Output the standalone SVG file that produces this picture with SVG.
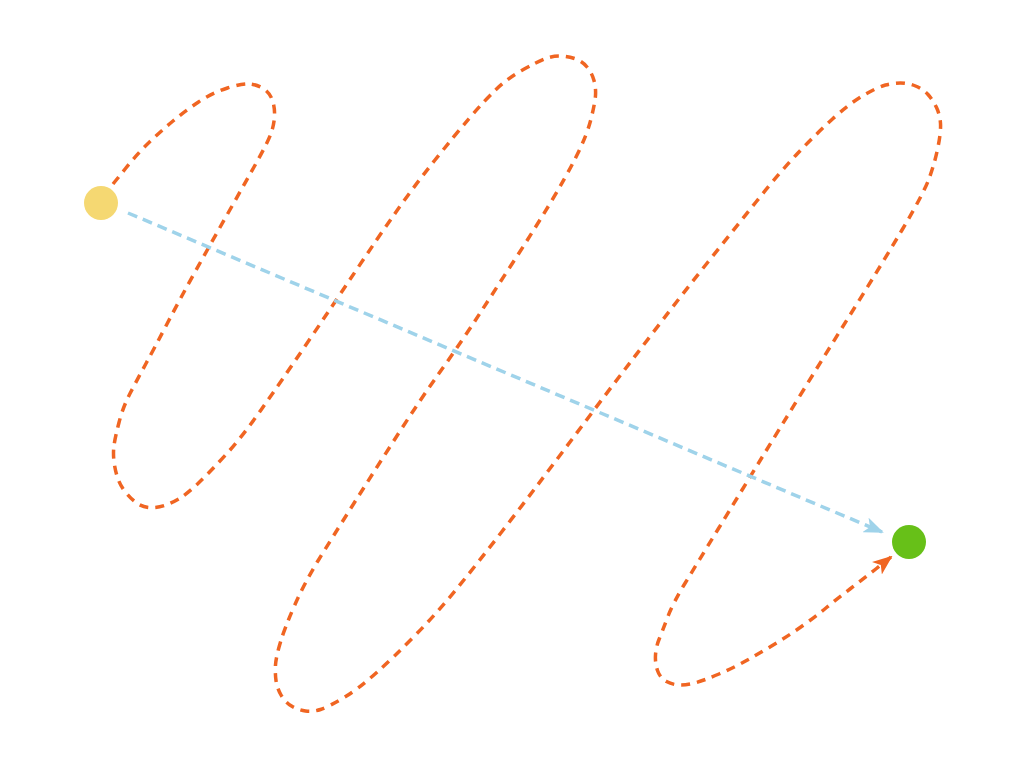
<svg xmlns="http://www.w3.org/2000/svg" width="1024" height="768" viewBox="0 0 1024 768">
<style>
.orange{fill:none;stroke:#f06522;stroke-width:3.5;stroke-dasharray:9 7}
.blue{fill:none;stroke:#9fd3ea;stroke-width:3.5;stroke-dasharray:10 6}
</style>
<defs>
<marker id="ao" viewBox="0 0 20 16" refX="18" refY="8" markerWidth="20" markerHeight="16" markerUnits="userSpaceOnUse" orient="auto">
<path d="M0,0 L20,8 L0,16 L5,8 Z" fill="#f06522"/>
</marker>
<marker id="ab" viewBox="0 0 20 16" refX="18" refY="8" markerWidth="20" markerHeight="16" markerUnits="userSpaceOnUse" orient="auto">
<path d="M0,0 L20,8 L0,16 L5,8 Z" fill="#9fd3ea"/>
</marker>
</defs>
<rect width="1024" height="768" fill="#ffffff"/>
<g id="connectors">
<path class="orange" marker-end="url(#ao)" d="M113,184 L125.5,168.5 Q138,153 149.5,142 Q161,131 173,121 Q185,111 198.5,102 Q212,93 227.5,88 Q243,83 250.5,84 Q258,85 264,89 Q270,93 272.5,100.5 Q275,108 274.5,116.5 Q274,125 271,133.5 Q268,142 254,167 Q240,192 225,218.5 Q210,245 195,272 Q180,299 167.5,323 Q155,347 146,363.5 Q137,380 130,393.5 Q123,407 119,422.5 Q115,438 114,445.5 Q113,453 114,461.5 Q115,470 117.5,477.5 Q120,485 125,491.5 Q130,498 136,502.5 Q142,507 149.5,507.5 Q157,508 164.5,505.5 Q172,503 179.5,498.5 Q187,494 198.5,483 Q210,472 226,454.5 Q242,437 261,410 Q280,383 306.5,344 Q333,305 355,272 Q377,239 396,212 Q415,185 435,160 Q455,135 469.5,118 Q484,101 496,89.5 Q508,78 522.5,70 Q537,62 544.5,59 Q552,56 559.5,56 Q567,56 574.5,58.5 Q582,61 587,67 Q592,73 594,80.5 Q596,88 595.5,95.5 Q595,103 591,119 Q587,135 576.5,156 Q566,177 550,203.5 Q534,230 515.5,258.5 Q497,287 479.5,314 Q462,341 441,370.5 Q420,400 397.5,435 Q375,470 353.5,504 Q332,538 318.5,560 Q305,582 295,604.5 Q285,627 280.5,642 Q276,657 275.5,665 Q275,673 276,680.5 Q277,688 281,695 Q285,702 291.5,706 Q298,710 305.5,711 Q313,712 320.5,709.5 Q328,707 342.5,698.5 Q357,690 375,674 Q393,658 415.5,635 Q438,612 459,586 Q480,560 502,531.5 Q524,503 544,476.5 Q564,450 583.5,424 Q603,398 622.5,372.5 Q642,347 663,319.5 Q684,292 708,262 Q732,232 756,202 Q780,172 797.5,153.5 Q815,135 832.5,119 Q850,103 864,95 Q878,87 885.5,85 Q893,83 900.5,83 Q908,83 915.5,86 Q923,89 928,94.5 Q933,100 936.5,107.5 Q940,115 940.5,123.5 Q941,132 938,147 Q935,162 929.5,177.5 Q924,193 902,230 Q880,267 855,307 Q830,347 805,387.5 Q780,428 759.5,461.5 Q739,495 718.5,528.5 Q698,562 685.5,582.5 Q673,603 667.5,617.5 Q662,632 659,639.5 Q656,647 655.5,655 Q655,663 657.5,670.5 Q660,678 666.5,681.5 Q673,685 680.5,685 Q688,685 696.5,682.5 Q705,680 719,674 Q733,668 746.5,660.5 Q760,653 774,644.5 Q788,636 801.5,626.5 Q815,617 826.5,607.5 Q838,598 850,589 Q862,580 876.5,568.5 L891,557"/>
<path class="blue" marker-end="url(#ab)" d="M128,213 L882,532"/>
</g>
<g id="start"><circle cx="101" cy="203" r="17" fill="#f5d872"/></g>
<g id="end"><circle cx="909" cy="542" r="17" fill="#67c018"/></g>
</svg>
